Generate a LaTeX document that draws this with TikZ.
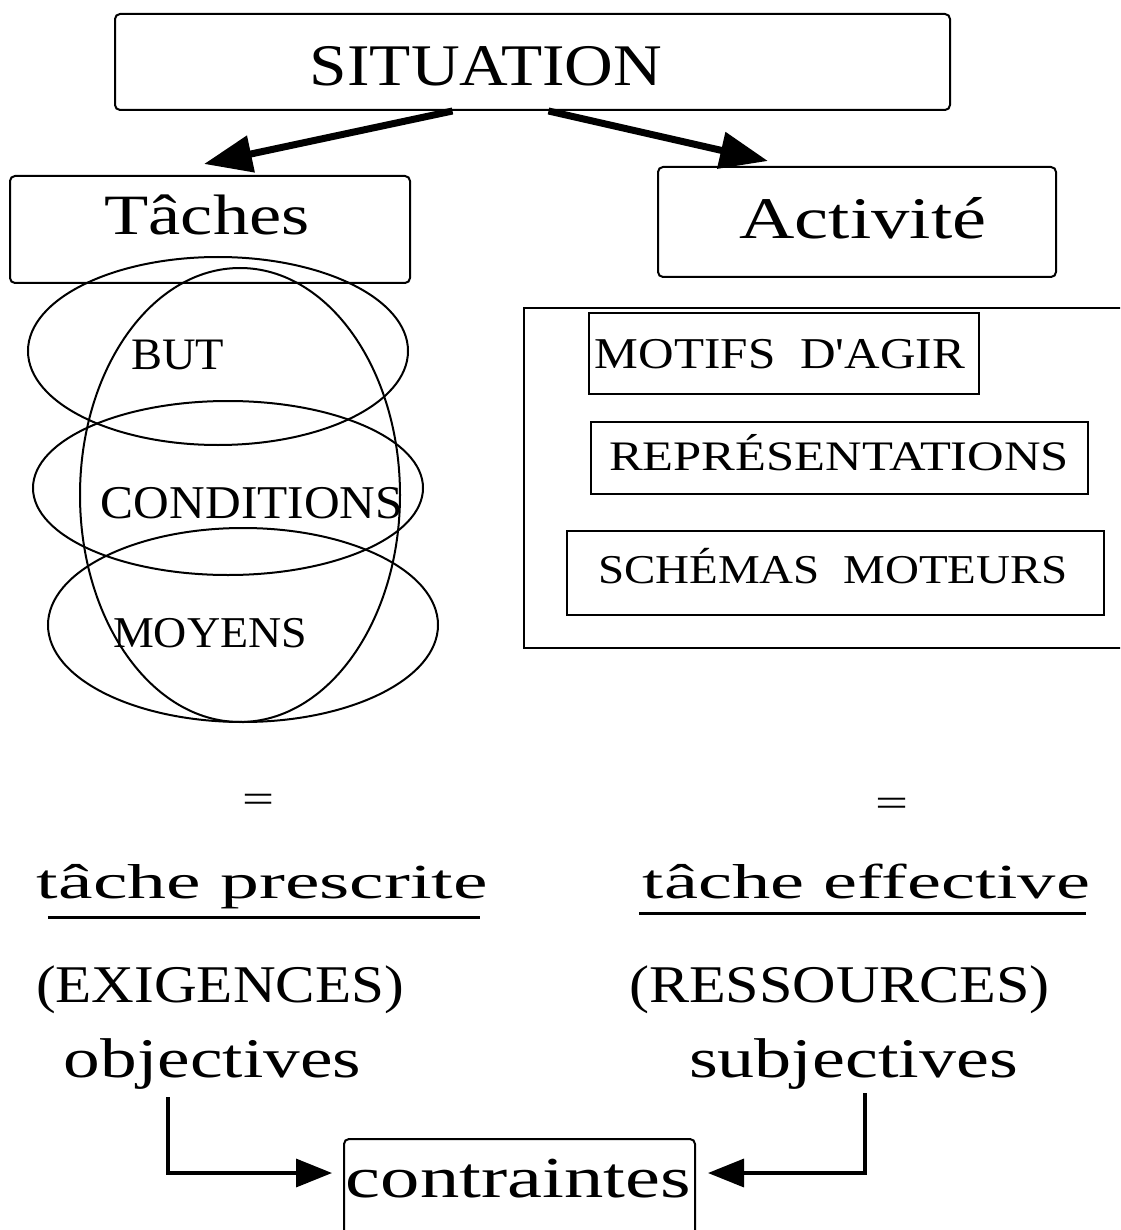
\documentclass[tikz,border=0pt]{standalone}
\usepackage{fontspec}
\setmainfont{Liberation Serif}
\usepackage{graphicx}
\usetikzlibrary{arrows.meta}

% text set at a given font size and stretched to a given width (pt)
\newcommand\fitw[2]{\resizebox{#1pt}{\height}{#2}}

\tikzset{
  fs/.style={font=\fontsize{#1}{#1}\selectfont},
  plainbox/.style={draw, line width=2pt, inner sep=0pt},
  rbox/.style={plainbox, rounded corners=5pt},
  lbl/.style={inner sep=0pt, anchor=base},
  ring/.style={line width=2pt},
  bigarrow/.style={line width=7pt, -{Triangle[length=48pt,width=36pt]}},
  smallarrow/.style={line width=3.5pt, -{Triangle[length=36pt,width=28pt]}},
  uline/.style={line width=3pt},
}

\begin{document}
\begin{tikzpicture}[x=1pt,y=-1pt]
\clip (0,0) rectangle (1120,1230);
\fill[white] (0,0) rectangle (1120,1230);

% --- top: situation, tasks, activity
\node[rbox, minimum width=835pt, minimum height=96pt] (sit) at (532.5,62) {};
\node[lbl, fs=59] (sitt) at (486,86) {\fitw{352}{SITUATION}};

\node[rbox, minimum width=400pt, minimum height=107pt] (tac) at (210,229.5) {};
\node[lbl, fs=57] (tact) at (207,235) {\fitw{205}{Tâches}};

\node[rbox, minimum width=398pt, minimum height=110pt] (act) at (857,222) {};
\node[lbl, fs=59] (actt) at (863,239) {\fitw{247}{Activité}};

\draw[bigarrow] ([xshift=-80pt]sit.south) -- ([shift={(-6,-11)}]tac.north);
\draw[bigarrow] ([xshift=16pt]sit.south) -- ([shift={(-89,-5)}]act.north);

% --- overlapping ellipses of the task
\draw[ring] (218,351) ellipse [x radius=190pt, y radius=94pt];
\draw[ring] (228,488) ellipse [x radius=195pt, y radius=87pt];
\draw[ring] (243,625) ellipse [x radius=195pt, y radius=97pt];
\draw[ring] (240,495) ellipse [x radius=160pt, y radius=227pt];

\node[lbl, fs=45] (but) at (177.5,369) {\fitw{93}{BUT}};
\node[lbl, fs=47] (cond) at (252,518) {\fitw{302}{CONDITIONS}};
\node[lbl, fs=44] (moy) at (210,647) {\fitw{194}{MOYENS}};

% --- components of the activity
\node[plainbox, minimum width=606pt, minimum height=340pt] (grp) at (827,478) {};
\node[plainbox, minimum width=390pt, minimum height=81pt] (mot) at (784,353.5) {};
\node[plainbox, minimum width=497pt, minimum height=72pt] (rep) at (839.5,458) {};
\node[plainbox, minimum width=537pt, minimum height=84pt] (sch) at (835.5,573) {};

\node[lbl, fs=44] (mott) at (780,368) {\fitw{370}{MOTIFS\ \ D\textquotesingle AGIR}};
\node[lbl, fs=42] (rept) at (839,470) {\fitw{460}{REPRÉSENTATIONS}};
\node[lbl, fs=41] (scht) at (833,583) {\fitw{470}{SCHÉMAS\ \ MOTEURS}};

% --- equivalences
\node[lbl, fs=40] (eq1) at (258,812) {\fitw{32}{=}};
\node[lbl, fs=40] (eq2) at (892,816) {\fitw{33}{=}};

\node[lbl, fs=49] (tp) at (262.5,898) {\fitw{451}{tâche\ prescrite}};
\node[lbl, fs=49] (te) at (866.5,898) {\fitw{447}{tâche\ effective}};
\draw[uline] ([shift={(11,19)}]tp.base west) -- ([shift={(-8,19)}]tp.base east);
\draw[uline] ([shift={(-4,15)}]te.base west) -- ([shift={(-4,15)}]te.base east);

\node[lbl, fs=53] (exi) at (220,1002) {\fitw{368}{(EXIGENCES)}};
\node[lbl, fs=53] (res) at (839.5,1002) {\fitw{421}{(RESSOURCES)}};
\node[lbl, fs=56] (obj) at (212.5,1077) {\fitw{297}{objectives}};
\node[lbl, fs=56] (sub) at (853.5,1077) {\fitw{329}{subjectives}};

% --- constraints
\node[rbox, minimum width=351pt, minimum height=121pt] (ctr) at (519.5,1199.5) {};
\node[lbl, fs=58] (ctrt) at (518.5,1197) {\fitw{345}{contraintes}};

\draw[smallarrow] ([xshift=-44.5pt,yshift=-8pt]obj.south) |- ([shift={(-11,-26.5)}]ctr.west);
\draw[smallarrow] ([xshift=11.5pt,yshift=-4pt]sub.south) |- ([shift={(12,-26.5)}]ctr.east);
\end{tikzpicture}
\end{document}
